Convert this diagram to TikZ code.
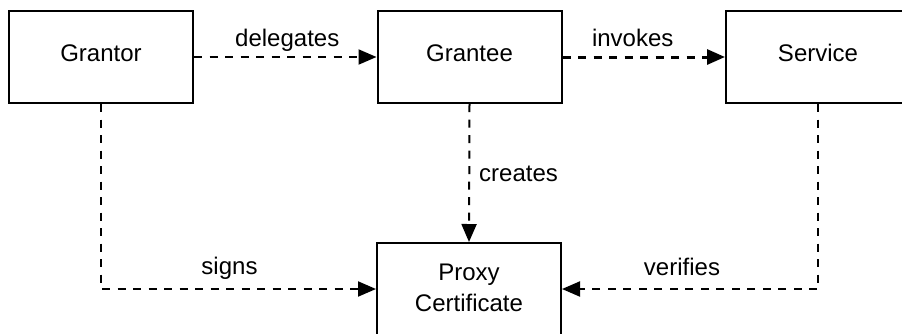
\documentclass[tikz,border=0pt]{standalone}
\usepackage{fontspec}
\setmainfont{Liberation Sans}
\usetikzlibrary{arrows.meta}
\tikzset{
  box/.style={draw, line width=2pt, minimum width=184pt, minimum height=92pt,
    inner sep=0pt, align=center, font=\fontsize{24}{31}\selectfont,
    text height=17pt, text depth=9pt},
  flow/.style={draw, line width=2pt, dash pattern=on 8pt off 7.5pt,
    -{Triangle[length=18pt,width=15pt]}},
  lbl/.style={font=\fontsize{24}{29}\selectfont, anchor=base, inner sep=0pt}
}
\begin{document}
\begin{tikzpicture}[x=1pt,y=-1pt]
  \useasboundingbox (0,0) rectangle (902,333);
  \clip (0,0) rectangle (902,333);

  % parties
  \node[box] (grantor) at (101,57) {Grantor};
  \node[box] (grantee) at (469.5,57) {Grantee};
  \node[box] (service) at (818,57) {Service};
  \node[box, text height=48.7pt, text depth=3.3pt] (proxy) at (469,289) {Proxy\\Certificate};

  % relations
  \draw[flow] (grantor.east) -- node[lbl, xshift=2pt, yshift=11pt] {delegates} (grantee.west);
  \draw[flow, line width=3pt] (grantee.east) -- node[lbl, xshift=-11pt, yshift=11pt] {invokes} (service.west);
  \draw[flow] (grantee.south) -- node[lbl, pos=0.564, anchor=base west, xshift=9pt] {creates} (proxy.north);
  \draw[flow] (grantor.south) |- node[lbl, pos=0.75, xshift=-9pt, yshift=15pt] {signs} (proxy.west);
  \draw[flow] (service.south) |- node[lbl, pos=0.75, xshift=-8pt, yshift=14pt] {verifies} (proxy.east);
\end{tikzpicture}
\end{document}
